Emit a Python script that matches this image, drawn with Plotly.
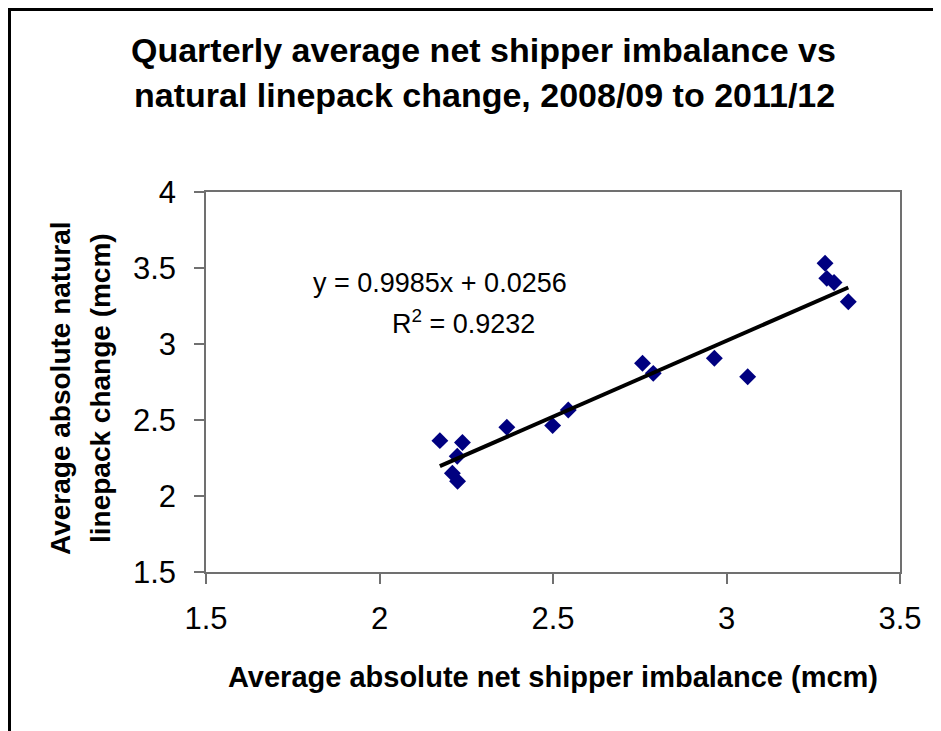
import plotly.graph_objects as go
import numpy as np

# ───── datos ──────────────────────────────────────────────────
imbalance = [2.174, 2.239, 2.224, 2.210, 2.225, 2.367, 2.499, 2.544,
             2.758, 2.789, 2.965, 3.061, 3.284, 3.289, 3.310, 3.351]
linepack = [2.364, 2.352, 2.262, 2.150, 2.097, 2.452, 2.463, 2.566,
            2.873, 2.807, 2.906, 2.785, 3.531, 3.432, 3.405, 3.278]

slope = 0.9985
intercept = 0.0256
r2 = 0.9232

x_ticks = [1.5, 2, 2.5, 3, 3.5]
y_ticks = [1.5, 2, 2.5, 3, 3.5, 4]

# ───── geometría (px de página; el body tiene 8px de margen) ──
OFF = 8
W, H = 941 - OFF, 731 - OFF
L, R, T, B = 206, 900, 192, 572          # área de trazado en la página
FONT = "Liberation Sans, Arial, sans-serif"


def px(x):
    return (x - L) / (R - L)


def py(y):
    return (B - y) / (B - T)


# línea de tendencia
xt = np.array([min(imbalance), max(imbalance)])
yt = slope * xt + intercept

fig = go.Figure()

fig.add_scatter(
    x=imbalance, y=linepack, mode="markers",
    marker=dict(symbol="diamond", size=13, color="#000080", line=dict(width=0)),
    showlegend=False,
)
fig.add_scatter(
    x=xt, y=yt, mode="lines",
    line=dict(color="black", width=4),
    showlegend=False,
)

axis_common = dict(
    showgrid=False, zeroline=False,
    showline=True, linecolor="#707070", linewidth=1.5, mirror=True,
    ticks="outside", ticklen=10, tickcolor="#707070", tickwidth=1.5,
    tickfont=dict(family=FONT, size=31, color="black"),
)

fig.update_xaxes(range=[1.5, 3.5], tickvals=x_ticks,
                 ticktext=[f"{v:g}" for v in x_ticks],
                 ticklabelstandoff=8, **axis_common)
fig.update_yaxes(range=[1.5, 4], tickvals=y_ticks,
                 ticktext=[f"{v:g}" for v in y_ticks],
                 ticklabelstandoff=12, **axis_common)

anns = [
    dict(text="<b>Quarterly average net shipper imbalance vs</b>", x=px(483), y=py(50), size=34),
    dict(text="<b>natural linepack change, 2008/09 to 2011/12</b>", x=px(484), y=py(95), size=34),
    dict(text="<b>Average absolute net shipper imbalance (mcm)</b>", x=px(553), y=py(677), size=29),
    dict(text=f"y = {slope}x + {intercept}", x=px(440), y=py(283), size=27),
    dict(text=f"R<sup>2</sup> = {r2}", x=px(463), y=py(322), size=27),
]
for a in anns:
    fig.add_annotation(
        text=a["text"], x=a["x"], y=a["y"], xref="paper", yref="paper",
        xanchor="center", yanchor="middle", showarrow=False,
        font=dict(family=FONT, size=a["size"], color="black"),
    )

# título del eje y (dos líneas)
for txt, xc in [("<b>Average absolute natural</b>", 60), ("<b>linepack change (mcm)</b>", 100)]:
    fig.add_annotation(
        text=txt, x=px(xc), y=py(388), xref="paper", yref="paper",
        xanchor="center", yanchor="middle", showarrow=False, textangle=-90,
        font=dict(family=FONT, size=28, color="black"),
    )

# marco exterior
fig.add_shape(type="line", xref="paper", yref="paper",
              x0=px(9.5), x1=px(9.5), y0=py(7.5), y1=py(760),
              line=dict(color="black", width=3))
fig.add_shape(type="line", xref="paper", yref="paper",
              x0=px(8), x1=px(960), y0=py(9.5), y1=py(9.5),
              line=dict(color="black", width=3))

fig.update_layout(
    width=W, height=H,
    margin=dict(l=L - OFF, r=W - (R - OFF), t=T - OFF, b=H - (B - OFF)),
    paper_bgcolor="white", plot_bgcolor="white",
    font=dict(family=FONT, color="black"),
    showlegend=False,
)

fig.write_html("out.html")
